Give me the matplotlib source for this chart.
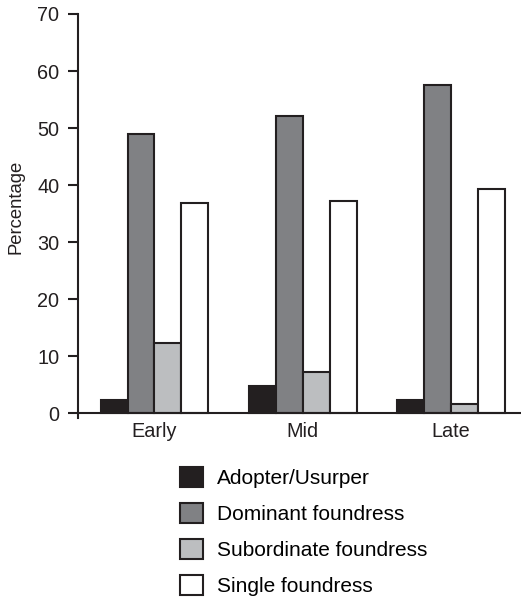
import numpy as np
import matplotlib.pyplot as plt
from matplotlib.patches import Patch

plt.rcParams['font.family'] = ['Liberation Sans', 'DejaVu Sans']

stages = ['Early', 'Mid', 'Late']
series = ['Adopter/Usurper', 'Dominant foundress', 'Subordinate foundress', 'Single foundress']
adopter = [2.4, 4.8, 2.4]
dominant = [49.0, 52.1, 57.5]
subordinate = [12.4, 7.2, 1.6]
single = [36.8, 37.2, 39.3]
colors = ['#231f20', '#808184', '#bcbec0', '#ffffff']

fig = plt.figure(figsize=(5.21, 6), dpi=100)
ax = fig.add_axes([0.150, 0.3027, 0.848, 0.674])

x = np.arange(len(stages))
w = 0.182
values = [adopter, dominant, subordinate, single]
for i, (vals, c) in enumerate(zip(values, colors)):
    ax.bar(x + (i - 1.5) * w, vals, w, color=c, edgecolor='#231f20', linewidth=1.5)

ax.set_xlim(-0.515, 2.466)
ax.set_ylim(-0.9, 70)
ax.set_yticks(range(0, 71, 10))
ax.set_xticks(x)
ax.set_xticklabels(stages)
ax.spines['top'].set_visible(False)
ax.spines['right'].set_visible(False)
ax.spines['bottom'].set_position(('data', 0))
for s in ['left', 'bottom']:
    ax.spines[s].set_linewidth(1.5)
    ax.spines[s].set_color('#231f20')
ax.tick_params(axis='y', length=7.5, width=1.5, labelsize=14.3, pad=6, colors='#231f20')
ax.tick_params(axis='x', length=0, labelsize=14.3, pad=6.5, colors='#231f20')
ax.set_ylabel('Percentage', fontsize=13.3, color='#231f20')
ax.yaxis.set_label_coords(-0.121, 0.523)

handles = [Patch(facecolor=c, edgecolor='#231f20', linewidth=1.5) for c in colors]
fig.legend(handles, series, loc='upper left', bbox_to_anchor=(180 / 521, 1 - 467 / 600),
           frameon=False, fontsize=15, handlelength=1.1, handleheight=1.1,
           labelspacing=0.72, handletextpad=0.66, borderpad=0, borderaxespad=0)

fig.savefig('out.png', dpi=100)
